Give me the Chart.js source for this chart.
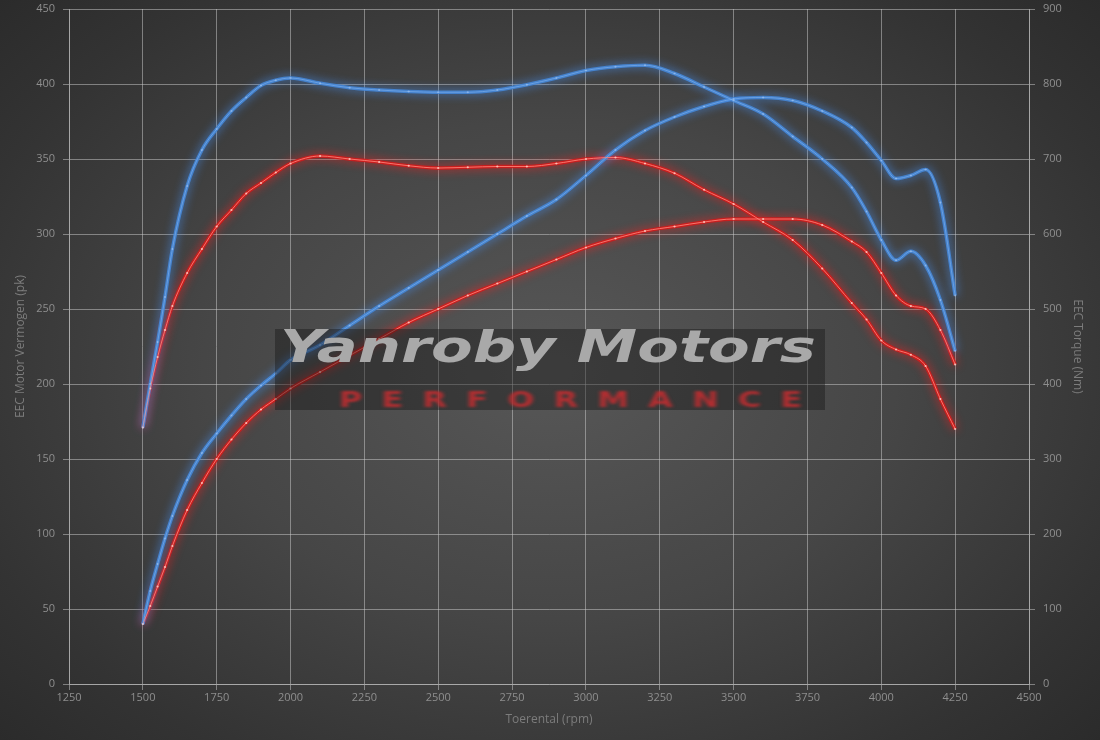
<!DOCTYPE html>
<html>
<head>
<meta charset="utf-8">
<script src="https://cdn.jsdelivr.net/npm/chart.js@4.4.1/dist/chart.umd.min.js"></script>
<style>
html, body { margin:0; padding:0; }
body { width:1100px; height:740px; overflow:hidden;
  background: radial-gradient(ellipse 70% 75% at 50% 50%, #575757 0%, #464646 45%, #333333 80%, #2a2a2a 100%); }
#wrap { position:relative; width:1100px; height:740px; }
#mark { position:absolute; left:275px; top:329px; width:550px; height:81px; background:rgba(22,22,22,0.42); overflow:hidden; }
#mark .brand { position:absolute; left:5px; top:-7px; font-family:"DejaVu Sans"; font-weight:bold; font-style:italic;
  font-size:44px; line-height:50px; color:#a9a9a9; white-space:nowrap; transform:scaleX(1.38); transform-origin:0 0; filter:blur(0.5px); }
#mark .perf { position:absolute; left:64px; top:60px; font-family:"DejaVu Sans"; font-weight:bold; font-size:21px; line-height:22px;
  letter-spacing:13px; color:rgba(200,45,48,0.85); white-space:nowrap; transform:scaleX(1.5); transform-origin:0 0; filter:blur(1.3px); }
</style>
</head>
<body>
<div id="wrap">
<canvas id="dyno" width="1100" height="740"></canvas>
<div id="mark"><span class="brand">Yanroby Motors</span><span class="perf">PERFORMANCE</span></div>
</div>
<script>
var rpm = [1500,1525,1550,1575,1600,1650,1700,1750,1800,1850,1900,1950,2000,2100,2200,2300,2400,2500,2600,2700,2800,2900,3000,3100,3200,3300,3400,3500,3600,3700,3800,3900,3950,4000,4050,4100,4150,4200,4250];

// vermogen (pk)
var powerTuned = [40,62,80,97,112,136,154,167,179,190,199,207,216,226,239,252,264,276,288,300,312,323,339,356,369,378,385,390,391,389,382,371,361,349,337,339,343,321,259];
var powerStock = [40,52,65,78,92,116,134,150,163,174,183,190,197,208,219,230,241,250,259,267,275,283,291,297,302,305,308,310,310,310,306,295,288,274,259,252,250,236,213];

// koppel (Nm)
var torqueTuned = [342,400,456,516,580,664,712,740,764,782,798,805,808,801,795,792,790,789,789,792,799,808,818,823,825,814,796,778,760,730,700,662,630,592,565,577,558,512,444];
var torqueStock = [342,394,436,472,504,548,580,610,632,654,668,682,694,704,700,696,691,688,689,690,690,694,700,702,694,681,659,640,616,592,554,508,486,458,446,439,424,380,340];

var xTicks = [1250, 4500, 250];
var leftTicks = [0, 450, 50];
var rightTicks = [0, 900, 100];

var gridCol = 'rgba(205,205,205,0.5)';
var tickCol = '#8e8e8e';
var titleCol = '#7c7c7c';

function pts(vals) {
    var out = [];
    for (var i = 0; i < rpm.length; i++) out.push({ x: rpm[i], y: vals[i] });
    return out;
}

var glow = {
    id: 'glow',
    beforeDatasetDraw: function(chart, args) {
        var ds = chart.data.datasets[args.index];
        chart.ctx.save();
        if (ds.glowColor) {
            chart.ctx.shadowColor = ds.glowColor;
            chart.ctx.shadowBlur = ds.glowBlur;
        }
    },
    afterDatasetDraw: function(chart) {
        chart.ctx.restore();
    }
};

function body(vals, axis, col, glowCol) {
    return { data: pts(vals), yAxisID: axis, borderColor: col, borderWidth: 3.5, pointRadius: 0,
        cubicInterpolationMode: 'monotone', order: 1, glowColor: glowCol, glowBlur: 10 };
}
function core(vals, axis, col, dot) {
    return { data: pts(vals), yAxisID: axis, borderColor: col, borderWidth: 1, pointRadius: 1.1,
        pointBackgroundColor: dot, pointBorderWidth: 0, cubicInterpolationMode: 'monotone', order: 0 };
}

var blue = 'rgba(70,135,215,0.9)', blueGlow = 'rgba(70,150,255,1)', blueCore = 'rgba(130,180,240,0.6)', blueDot = 'rgba(180,210,250,0.5)';
var red = 'rgba(210,28,28,0.9)', redGlow = 'rgba(255,30,30,1)', redCore = 'rgba(255,125,115,0.9)', redDot = 'rgba(255,205,195,0.85)';

function plain(v) { return String(v); }
// vaste plotruimte: links 69px, rechts 71px, boven 9px
function fitY(w) {
    return function(s) { s.width = w; s.paddingTop = 9; s.paddingBottom = 0; };
}

var ctx = document.getElementById('dyno').getContext('2d');
var chart = new Chart(ctx, {
    type: 'line',
    data: {
        datasets: [
            core(torqueTuned, 'y1', blueCore, blueDot),
            core(powerTuned, 'y', blueCore, blueDot),
            core(torqueStock, 'y1', redCore, redDot),
            core(powerStock, 'y', redCore, redDot),
            body(torqueTuned, 'y1', blue, blueGlow),
            body(powerTuned, 'y', blue, blueGlow),
            body(torqueStock, 'y1', red, redGlow),
            body(powerStock, 'y', red, redGlow)
        ]
    },
    options: {
        responsive: false,
        animation: false,
        layout: { padding: 0 },
        plugins: { legend: { display: false }, tooltip: { enabled: false } },
        scales: {
            x: {
                type: 'linear', min: xTicks[0], max: xTicks[1],
                ticks: { stepSize: xTicks[2], color: tickCol, padding: 1, font: { family: 'Open Sans', size: 11 }, maxRotation: 0, callback: plain },
                grid: { color: gridCol, tickColor: gridCol, tickLength: 6 },
                border: { color: gridCol },
                title: { display: true, text: 'Toerental (rpm)', color: titleCol, font: { family: 'Open Sans', size: 12 }, padding: { bottom: 13 } },
                afterFit: function(s) { s.height = 56; }
            },
            y: {
                position: 'left', min: leftTicks[0], max: leftTicks[1],
                ticks: { stepSize: leftTicks[2], color: tickCol, padding: 8, font: { family: 'Open Sans', size: 11 }, callback: plain },
                grid: { color: gridCol, tickColor: gridCol, tickLength: 6 },
                border: { color: gridCol },
                title: { display: true, text: 'EEC Motor Vermogen (pk)', color: titleCol, font: { family: 'Open Sans', size: 12 }, padding: { top: 13 } },
                afterFit: fitY(69)
            },
            y1: {
                position: 'right', min: rightTicks[0], max: rightTicks[1],
                ticks: { stepSize: rightTicks[2], color: tickCol, padding: 8, font: { family: 'Open Sans', size: 11 }, callback: plain },
                grid: { drawOnChartArea: false, color: gridCol, tickColor: gridCol, tickLength: 6 },
                border: { color: gridCol },
                title: { display: true, text: 'EEC Torque (Nm)', color: titleCol, font: { family: 'Open Sans', size: 12 }, padding: { top: 15 } },
                afterFit: fitY(71)
            }
        }
    },
    plugins: [glow]
});
</script>
</body>
</html>
